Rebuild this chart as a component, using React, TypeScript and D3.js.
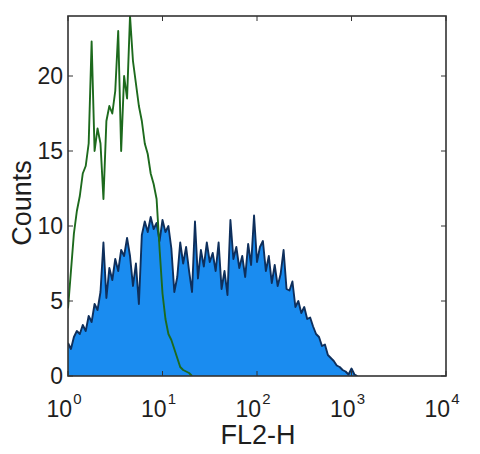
import React from "react";
import * as d3 from "d3";

const xTickExps = [0, 1, 2, 3, 4];
const yTicks = [0, 5, 10, 15, 20];

// channel resolution: 128 channels across 4 decades
const channelsPerDecade = 32;

const blueCounts = [
  2.2, 1.8, 2.6, 3.0, 2.8, 3.4, 3.0, 4.0, 3.6, 4.8,
  4.4, 5.6, 8.9, 5.2, 7.2, 6.4, 7.8, 7.0, 8.4, 8.0,
  9.2, 8.0, 6.0, 7.5, 4.8, 9.4, 10.3, 9.6, 10.6, 9.8,
  10.2, 9.0, 10.4, 9.6, 10.0, 8.5, 5.6, 6.6, 8.9, 7.5,
  8.6, 7.0, 5.6, 10.3, 6.5, 8.4, 7.3, 8.9, 7.6, 8.2,
  7.0, 8.9, 5.8, 7.0, 5.4, 10.4, 7.8, 8.6, 7.2, 8.0,
  6.6, 8.8, 7.4, 10.7, 7.6, 8.6, 9.0, 7.0, 8.0, 6.2,
  7.4, 6.0, 6.8, 8.4, 5.8, 5.7, 6.3, 4.6, 5.0, 4.2,
  4.6, 3.8, 3.9, 3.3, 2.8, 2.6, 2.0, 2.1, 1.4, 1.2,
  1.0, 0.7, 0.6, 0.4, 0.3, 0.1, 0.5, 0.1, 0,
];

const greenCounts = [
  4.5, 7.0, 9.5, 11.0, 12.0, 13.5, 14.0, 15.5, 22.3, 15.0,
  16.5, 15.5, 11.8, 17.0, 18.0, 17.5, 19.0, 23.0, 15.0, 20.0,
  18.5, 24.0, 21.0, 19.5, 18.0, 17.0, 15.5, 14.8, 13.5, 12.8,
  11.8, 8.5, 5.5, 3.8, 2.8, 2.4, 1.8, 1.2, 0.6, 0.4,
  0.3, 0.2, 0,
];

const W = 480;
const H = 454;
const left = 68;
const right = 446;
const top = 16;
const bottom = 376;

export default function App() {
  const x = d3.scaleLog().domain([1, 10000]).range([left, right]);
  const y = d3.scaleLinear().domain([0, 24]).range([bottom, top]);
  const chanValue = (i: number) => Math.pow(10, i / channelsPerDecade);

  const blueArea = d3
    .area<number>()
    .x((_, i) => x(chanValue(i)))
    .y0(bottom)
    .y1((d) => y(d))
    .curve(d3.curveLinear);
  const blueLine = d3
    .line<number>()
    .x((_, i) => x(chanValue(i)))
    .y((d) => y(d));
  const greenLine = d3
    .line<number>()
    .x((_, i) => x(chanValue(i)))
    .y((d) => y(d));

  const font = "'Liberation Sans', Arial, Helvetica, sans-serif";
  const axisColor = "#333";
  const textColor = "#1e1e1e";

  return (
    <svg width={W} height={H} style={{ position: "absolute", left: 0, top: 0, background: "#fff" }}>
      <defs>
        <clipPath id="plot">
          <rect x={left} y={top} width={right - left} height={bottom - top} />
        </clipPath>
      </defs>
      <g clipPath="url(#plot)">
        <path d={blueArea(blueCounts) || ""} fill="#1a8cf0" />
        <path d={blueLine(blueCounts) || ""} fill="none" stroke="#0e2f5c" strokeWidth={1.9} strokeLinejoin="round" />
        <path d={greenLine(greenCounts) || ""} fill="none" stroke="#1d6a1d" strokeWidth={1.9} strokeLinejoin="round" />
      </g>
      <rect x={left} y={top} width={right - left} height={bottom - top} fill="none" stroke={axisColor} strokeWidth={1.6} />
      {xTickExps.map((e) => {
        const xx = x(Math.pow(10, e));
        return (
          <g key={"xt" + e}>
            <line x1={xx} x2={xx} y1={bottom} y2={bottom - 5} stroke={axisColor} />
            <line x1={xx} x2={xx} y1={top} y2={top + 5} stroke={axisColor} />
            <text x={xx - 4} y={417} fontFamily={font} fontSize={23} fill={textColor} textAnchor="middle">
              10
              <tspan fontSize={15} dy={-13} dx={1}>{e}</tspan>
            </text>
          </g>
        );
      })}
      {yTicks.map((t) => {
        const yy = y(t);
        return (
          <g key={"yt" + t}>
            <line x1={left} x2={left + 5} y1={yy} y2={yy} stroke={axisColor} />
            <line x1={right} x2={right - 5} y1={yy} y2={yy} stroke={axisColor} />
            <text x={63} y={yy + 8} fontFamily={font} fontSize={23} fill={textColor} textAnchor="end">
              {t}
            </text>
          </g>
        );
      })}
      <text x={258} y={444} fontFamily={font} fontSize={27} fill={textColor} textAnchor="middle">
        FL2-H
      </text>
      <text
        transform={`translate(31,203) rotate(-90)`}
        fontFamily={font}
        fontSize={27}
        fill={textColor}
        textAnchor="middle"
      >
        Counts
      </text>
    </svg>
  );
}
